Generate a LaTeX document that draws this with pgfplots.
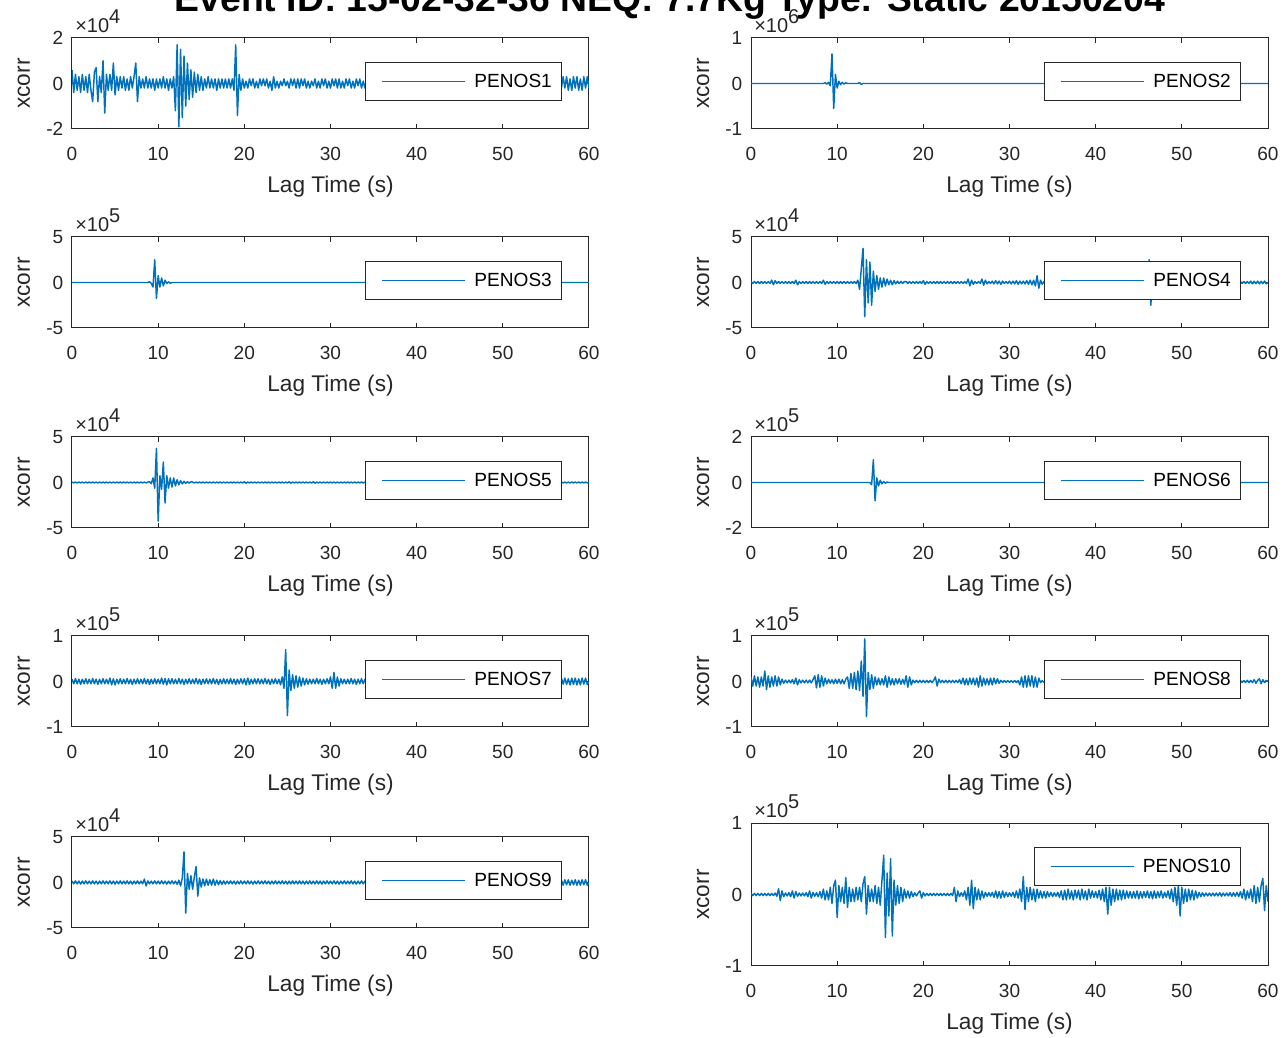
\documentclass[border=0pt]{standalone}
\usepackage{pgfplots}
\pgfplotsset{compat=1.18}
\usepackage{fontspec}
\setmainfont{Liberation Sans}
\definecolor{mblue}{RGB}{0,114,189}
\definecolor{axisgray}{RGB}{38,38,38}
\newcommand\tf{\fontsize{14.3}{17}\selectfont}
\newcommand\lf{\fontsize{17}{20}\selectfont}
\pgfplotsset{
  panel/.style={
    scale only axis, width=387.75pt, height=68.25pt,
    xmin=0, xmax=60, ymin=-20, ymax=20,
    xtick={0,10,20,30,40,50,60}, xticklabels={0,10,20,30,40,50,60},
    ytick={-20,0,20},
    tick align=inside, tick pos=both,
    major tick length=3.75pt,
    axis line style={draw=axisgray, line width=0.75pt},
    every tick/.style={draw=axisgray, line width=0.75pt},
    ticklabel style={font=\tf, text=axisgray},
    xticklabel style={anchor=base, yshift=-24pt},
    yticklabel style={xshift=-3pt},
    xlabel={Lag Time (s)}, ylabel={xcorr},
    label style={font=\lf, text=axisgray},
    xlabel style={at={([yshift=-48pt]axis description cs:0.5,0)}, anchor=base},
    ylabel style={at={([xshift=-31.5pt]axis description cs:0,0.5)}, anchor=base},
    legend style={at={(axis description cs:1,1)}, anchor=north east, xshift=-20pt, yshift=-18pt,
      draw=axisgray, line width=0.75pt, fill=white, font=\tf, text=black,
      inner xsep=7.5pt, inner ysep=8.4pt, nodes={inner sep=0pt},
      /tikz/every odd column/.append style={column sep=6.2pt}},
    legend image code/.code={\path (0pt,0pt); \draw[##1,line width=1.1pt] (4.5pt,0pt) -- (66.75pt,0pt);},
  },
  expo/.style={extra description/.code={\node[anchor=base west, inner sep=0pt, font=\fontsize{15}{18}\selectfont, text=axisgray] at ([xshift=2.25pt,yshift=3.75pt]0,1) {×10\raisebox{7pt}{#1}};}},
  trace/.style={color=mblue, line width=1.1pt, line join=round, mark=none},
}
\begin{document}
\begin{tikzpicture}
\node[anchor=base, font=\fontsize{28}{32}\selectfont\bfseries] at (502.5pt,769.5pt) {Event ID: 15-02-32-36 NEQ: 7.7Kg Type: Static 20150204};

% PENOS1
\begin{axis}[panel, at={(54pt,681.75pt)}, anchor=south west, yticklabels={-2,0,2}, expo=4]
\addplot[trace] table[row sep=\\, header=false, x expr=\coordindex*0.2, y index=0] {
6\\-4\\4\\-3\\3\\-4\\4\\-3\\3\\-4\\
4\\-3\\-8\\5\\7\\-8\\3\\-4\\10\\-13\\
4\\-3\\4\\-3\\9\\-5\\3\\-3\\3\\-2\\
3\\-3\\2\\-3\\3\\-2\\3\\9\\-8\\3\\
-2\\2\\-2\\3\\-2\\2\\-2\\2\\-3\\2\\
-2\\2\\-2\\3\\-2\\2\\-3\\2\\-2\\3\\
-12\\17\\-19\\15\\-15\\12\\-10\\9\\-7\\6\\
-6\\5\\-4\\4\\-3\\3\\-3\\2\\-2\\3\\
-2\\2\\-2\\2\\-3\\2\\-2\\2\\-2\\2\\
-2\\2\\-2\\2\\-3\\17\\-14\\4\\-3\\2\\
-2\\1\\-2\\2\\-1\\2\\-2\\1\\-2\\2\\
-1\\2\\-1\\2\\-2\\1\\-3\\3\\-2\\1\\
-2\\1\\-1\\2\\-1\\1\\-2\\2\\-1\\2\\
-2\\2\\-2\\2\\-1\\2\\-2\\1\\-2\\1\\
-1\\2\\-2\\1\\-2\\2\\-1\\2\\-2\\1\\
-2\\2\\-1\\2\\-2\\2\\-2\\1\\-2\\2\\
-1\\2\\-2\\1\\-2\\2\\-1\\2\\-2\\1\\
-2\\2\\-1\\2\\-2\\1\\-2\\2\\-1\\2\\
-2\\2\\-1\\2\\-2\\1\\-2\\2\\-1\\2\\
-2\\2\\-1\\2\\-2\\1\\-2\\2\\-1\\2\\
-2\\2\\-1\\2\\-2\\1\\-2\\2\\-1\\2\\
-2\\2\\-1\\2\\-2\\1\\-2\\2\\-1\\2\\
-2\\2\\-1\\2\\-2\\1\\-2\\2\\-1\\2\\
-2\\2\\-1\\2\\-2\\1\\-2\\2\\-1\\2\\
-2\\2\\-1\\2\\-2\\1\\-2\\2\\-1\\2\\
-2\\2\\-1\\2\\-2\\1\\-2\\2\\-1\\2\\
-2\\2\\-1\\2\\-2\\1\\-2\\2\\-1\\2\\
-2\\2\\-1\\2\\-2\\1\\-2\\2\\-1\\2\\
-2\\2\\-3\\2\\-2\\3\\-2\\3\\-3\\2\\
-3\\3\\-2\\3\\-3\\2\\-3\\3\\-2\\3\\
-2\\
};
\addlegendentry{PENOS1}
\end{axis}

% PENOS2
\begin{axis}[panel, at={(563.25pt,681.75pt)}, anchor=south west, yticklabels={-1,0,1}, expo=6]
\addplot[trace] table[row sep=\\, header=false, x expr=\coordindex*0.2, y index=0] {
0\\0\\0\\0\\0\\0\\0\\0\\0\\0\\
0\\0\\0\\0\\0\\0\\0\\0\\0\\0\\
0\\0\\0\\0\\0\\0\\0\\0\\0\\0\\
0\\0\\0\\0\\0\\0\\0\\0\\0\\0\\
0\\0\\0\\0.3\\-0.3\\0.5\\-1\\13\\-11\\4\\
-2\\1\\-0.5\\0.5\\-0.3\\0.3\\0\\0\\0\\0\\
0\\0\\0\\0.4\\-0.4\\0\\0\\0\\0\\0\\
0\\0\\0\\0\\0\\0\\0\\0\\0\\0\\
0\\0\\0\\0\\0\\0\\0\\0\\0\\0\\
0\\0\\0\\0\\0\\0\\0\\0\\0\\0\\
0\\0\\0\\0\\0\\0\\0\\0\\0\\0\\
0\\0\\0\\0\\0\\0\\0\\0\\0\\0\\
0\\0\\0\\0\\0\\0\\0\\0\\0\\0\\
0\\0\\0\\0\\0\\0\\0\\0\\0\\0\\
0\\0\\0\\0\\0\\0\\0\\0\\0\\0\\
0\\0\\0\\0\\0\\0\\0\\0\\0\\0\\
0\\0\\0\\0\\0\\0\\0\\0\\0\\0\\
0\\0\\0\\0\\0\\0\\0\\0\\0\\0\\
0\\0\\0\\0\\0\\0\\0\\0\\0\\0\\
0\\0\\0\\0\\0\\0\\0\\0\\0\\0\\
0\\0\\0\\0\\0\\0\\0\\0\\0\\0\\
0\\0\\0\\0\\0\\0\\0\\0\\0\\0\\
0\\0\\0\\0\\0\\0\\0\\0\\0\\0\\
0\\0\\0\\0\\0\\0\\0\\0\\0\\0\\
0\\0\\0\\0\\0\\0\\0\\0\\0\\0\\
0\\0\\0\\0\\0\\0\\0\\0\\0\\0\\
0\\0\\0\\0\\0\\0\\0\\0\\0\\0\\
0\\0\\0\\0\\0\\0\\0\\0\\0\\0\\
0\\0\\0\\0\\0\\0\\0\\0\\0\\0\\
0\\0\\0\\0\\0\\0\\0\\0\\0\\0\\
0\\
};
\addlegendentry{PENOS2}
\end{axis}

% PENOS3
\begin{axis}[panel, at={(54pt,532.5pt)}, anchor=south west, yticklabels={-5,0,5}, expo=5]
\addplot[trace] table[row sep=\\, header=false, x expr=\coordindex*0.2, y index=0] {
0\\0\\0\\0\\0\\0\\0\\0\\0\\0\\
0\\0\\0\\0\\0\\0\\0\\0\\0\\0\\
0\\0\\0\\0\\0\\0\\0\\0\\0\\0\\
0\\0\\0\\0\\0\\0\\0\\0\\0\\0\\
0\\0\\0\\0\\0\\0.3\\-0.4\\-2\\10\\-7\\
3\\-2\\2\\-1.5\\1\\-0.5\\0.3\\-0.3\\0\\0\\
0\\0\\0\\0\\0\\0\\0\\0\\0\\0\\
0\\0\\0\\0\\0\\0\\0\\0\\0\\0\\
0\\0\\0\\0\\0\\0\\0\\0\\0\\0\\
0\\0\\0\\0\\0\\0\\0\\0\\0\\0\\
0\\0\\0\\0\\0\\0\\0\\0\\0\\0\\
0\\0\\0\\0\\0\\0\\0\\0\\0\\0\\
0\\0\\0\\0\\0\\0\\0\\0\\0\\0\\
0\\0\\0\\0\\0\\0\\0\\0\\0\\0\\
0\\0\\0\\0\\0\\0\\0\\0\\0\\0\\
0\\0\\0\\0\\0\\0\\0\\0\\0\\0\\
0\\0\\0\\0\\0\\0\\0\\0\\0\\0\\
0\\0\\0\\0\\0\\0\\0\\0\\0\\0\\
0\\0\\0\\0\\0\\0\\0\\0\\0\\0\\
0\\0\\0\\0\\0\\0\\0\\0\\0\\0\\
0\\0\\0\\0\\0\\0\\0\\0\\0\\0\\
0\\0\\0\\0\\0\\0\\0\\0\\0\\0\\
0\\0\\0\\0\\0\\0\\0\\0\\0\\0\\
0\\0\\0\\0\\0\\0\\0\\0\\0\\0\\
0\\0\\0\\0\\0\\0\\0\\0\\0\\0\\
0\\0\\0\\0\\0\\0\\0\\0\\0\\0\\
0\\0\\0\\0\\0\\0\\0\\0\\0\\0\\
0\\0\\0\\0\\0\\0\\0\\0\\0\\0\\
0\\0\\0\\0\\0\\0\\0\\0\\0\\0\\
0\\0\\0\\0\\0\\0\\0\\0\\0\\0\\
0\\
};
\addlegendentry{PENOS3}
\end{axis}

% PENOS4
\begin{axis}[panel, at={(563.25pt,532.5pt)}, anchor=south west, yticklabels={-5,0,5}, expo=4]
\addplot[trace] table[row sep=\\, header=false, x expr=\coordindex*0.2, y index=0] {
0.4\\-0.4\\0.4\\-0.4\\0.4\\-0.4\\0.4\\-0.4\\0.4\\-0.4\\
0.4\\-0.4\\1\\-1\\0.8\\-0.4\\0.4\\-0.4\\0.4\\-0.4\\
0.4\\-0.4\\0.4\\-0.4\\0.4\\-0.4\\1\\-1\\0.4\\-0.4\\
0.4\\-0.4\\0.4\\-0.4\\0.4\\-0.4\\0.4\\-0.4\\0.4\\-0.4\\
0.4\\-0.4\\1\\-0.8\\0.4\\-0.4\\0.4\\-0.4\\0.4\\-0.4\\
0.4\\-0.4\\0.4\\-0.4\\0.4\\-0.4\\0.4\\-0.4\\0.4\\-0.4\\
0.4\\-0.4\\1\\-3\\6\\15\\-15\\10\\-9\\9\\
-10\\5\\-4\\3\\-3\\2\\-2\\2\\-1.5\\1.5\\
-1\\1\\-1\\0.8\\-0.6\\0.6\\-0.5\\0.5\\-0.4\\0.4\\
0.4\\-0.4\\0.4\\-0.4\\0.4\\-0.4\\0.4\\-0.4\\0.4\\-0.4\\
0.8\\-0.8\\0.4\\-0.4\\0.4\\-0.4\\0.4\\-0.4\\0.4\\-0.4\\
0.4\\-0.4\\0.4\\-0.4\\0.4\\-0.4\\0.4\\-0.4\\0.4\\-0.4\\
0.4\\-0.4\\0.4\\-0.4\\0.4\\-0.4\\1.5\\-1.5\\1\\-0.8\\
0.4\\-0.4\\0.4\\-0.4\\1.5\\-1.2\\1\\-0.6\\0.4\\-0.4\\
0.6\\-0.6\\0.8\\-0.6\\0.6\\-0.8\\0.6\\-0.4\\0.4\\-0.4\\
0.6\\-0.6\\0.6\\-0.6\\0.8\\-0.8\\0.6\\-0.6\\0.6\\-0.6\\
0.8\\-0.8\\1\\-1\\1\\-1.5\\3\\-2.5\\1\\-0.8\\
0.4\\-0.4\\0.4\\-0.4\\0.4\\-0.4\\0.4\\-0.4\\0.4\\-0.4\\
0.4\\-0.4\\0.4\\-0.4\\0.4\\-0.4\\0.4\\-0.4\\0.4\\-0.4\\
0.4\\-0.4\\0.4\\-0.4\\0.4\\-0.4\\0.4\\-0.4\\0.4\\-0.4\\
0.4\\-0.4\\0.4\\-0.4\\0.4\\-0.4\\0.4\\-0.4\\0.4\\-0.4\\
0.4\\-0.4\\0.4\\-0.4\\0.4\\-0.4\\0.4\\-0.4\\0.4\\-0.4\\
0.4\\-0.4\\0.4\\-0.4\\0.4\\-0.4\\0.4\\-0.4\\0.4\\-0.4\\
0.4\\10\\-10\\2\\-1\\0.5\\-0.4\\0.4\\-0.4\\0.4\\
0.4\\-0.4\\0.4\\-0.4\\0.4\\-0.4\\0.4\\-0.4\\0.4\\-0.4\\
0.4\\-0.4\\0.4\\-0.4\\0.4\\-0.4\\0.4\\-0.4\\0.4\\-0.4\\
0.4\\-0.4\\0.4\\-0.4\\0.4\\-0.4\\0.4\\-0.4\\0.4\\-0.4\\
0.4\\-0.4\\0.4\\-0.4\\0.4\\-0.4\\0.4\\-0.4\\0.4\\-0.4\\
0.4\\-0.4\\0.4\\-0.4\\0.4\\-0.4\\0.4\\-0.4\\0.4\\-0.4\\
0.6\\-0.6\\0.5\\-0.5\\0.6\\-0.6\\0.5\\-0.5\\0.6\\-0.6\\
0\\
};
\addlegendentry{PENOS4}
\end{axis}

% PENOS5
\begin{axis}[panel, at={(54pt,382.5pt)}, anchor=south west, yticklabels={-5,0,5}, expo=4]
\addplot[trace] table[row sep=\\, header=false, x expr=\coordindex*0.2, y index=0] {
0.2\\-0.2\\0.2\\-0.2\\0.2\\-0.2\\0.2\\-0.2\\0.2\\-0.2\\
0.2\\-0.2\\0.2\\-0.2\\0.2\\-0.2\\0.2\\-0.2\\0.2\\-0.2\\
0.2\\-0.2\\0.2\\-0.2\\0.2\\-0.2\\0.2\\-0.2\\0.2\\-0.2\\
0.2\\-0.2\\0.2\\-0.2\\0.2\\-0.2\\0.2\\-0.2\\0.2\\-0.2\\
0.2\\-0.2\\0.2\\-0.2\\0.2\\0.3\\-0.5\\2\\-2.5\\15\\
-17\\3\\-3\\9\\-9\\3\\-2.5\\2\\-2\\2\\
-1.5\\1.2\\-1\\0.8\\-0.6\\0.5\\-0.4\\0.4\\-0.3\\0.3\\
0.2\\-0.2\\0.2\\-0.2\\0.2\\-0.2\\0.2\\-0.2\\0.2\\-0.2\\
0.2\\-0.2\\0.2\\-0.2\\0.2\\-0.2\\0.2\\-0.2\\0.2\\-0.2\\
0.2\\-0.2\\0.2\\-0.2\\0.2\\-0.2\\0.2\\-0.2\\0.2\\-0.2\\
0.3\\-0.3\\0.2\\-0.2\\0.2\\-0.2\\0.2\\-0.2\\0.2\\-0.2\\
0.2\\-0.2\\0.2\\-0.2\\0.2\\-0.2\\0.2\\-0.2\\0.2\\-0.2\\
0.2\\-0.2\\0.2\\-0.2\\0.2\\-0.2\\0.3\\-0.3\\0.2\\-0.2\\
0.2\\-0.2\\0.2\\-0.2\\0.2\\-0.2\\0.2\\-0.2\\0.2\\-0.2\\
0.3\\-0.3\\0.2\\-0.2\\0.2\\-0.2\\0.2\\-0.2\\0.2\\-0.2\\
0.2\\-0.2\\0.2\\-0.2\\0.2\\-0.2\\0.2\\-0.2\\0.2\\-0.2\\
0.2\\-0.2\\0.2\\-0.2\\0.2\\-0.2\\0.2\\-0.2\\0.2\\-0.2\\
0.2\\-0.2\\0.2\\-0.2\\0.2\\-0.2\\0.2\\-0.2\\0.2\\-0.2\\
0.2\\-0.2\\0.2\\-0.2\\0.2\\-0.2\\0.2\\-0.2\\0.2\\-0.2\\
0.2\\-0.2\\0.2\\-0.2\\0.2\\-0.2\\0.2\\-0.2\\0.2\\-0.2\\
0.2\\-0.2\\0.2\\-0.2\\0.2\\-0.2\\0.2\\-0.2\\0.2\\-0.2\\
0.2\\-0.2\\0.2\\-0.2\\0.2\\-0.2\\0.2\\-0.2\\0.2\\-0.2\\
0.2\\-0.2\\0.2\\-0.2\\0.2\\-0.2\\0.2\\-0.2\\0.2\\-0.2\\
0.2\\-0.2\\0.2\\-0.2\\0.2\\-0.2\\0.2\\-0.2\\0.2\\-0.2\\
0.2\\-0.2\\0.2\\-0.2\\0.2\\-0.2\\0.2\\-0.2\\0.2\\-0.2\\
0.2\\-0.2\\0.2\\-0.2\\0.2\\-0.2\\0.2\\-0.2\\0.2\\-0.2\\
0.2\\-0.2\\0.2\\-0.2\\0.2\\-0.2\\0.2\\-0.2\\0.2\\-0.2\\
0.2\\-0.2\\0.2\\-0.2\\0.2\\-0.2\\0.2\\-0.2\\0.2\\-0.2\\
0.2\\-0.2\\0.2\\-0.2\\0.2\\-0.2\\0.2\\-0.2\\0.2\\-0.2\\
0.2\\-0.2\\0.2\\-0.2\\0.2\\-0.2\\0.2\\-0.2\\0.2\\-0.2\\
0\\
};
\addlegendentry{PENOS5}
\end{axis}

% PENOS6
\begin{axis}[panel, at={(563.25pt,382.5pt)}, anchor=south west, yticklabels={-2,0,2}, expo=5]
\addplot[trace] table[row sep=\\, header=false, x expr=\coordindex*0.2, y index=0] {
0\\0\\0\\0\\0\\0\\0\\0\\0\\0\\
0\\0\\0\\0\\0\\0\\0\\0\\0\\0\\
0\\0\\0\\0\\0\\0\\0\\0\\0\\0\\
0\\0\\0\\0\\0\\0\\0\\0\\0\\0\\
0\\0\\0\\0\\0\\0\\0\\0\\0\\0\\
0\\0\\0\\0\\0\\0\\0\\0\\0\\0\\
0\\0\\0\\0\\0\\0\\0\\0\\0\\0\\
-1\\10\\-8\\2\\-1.5\\1\\-0.6\\0.4\\-0.3\\0.2\\
0\\0\\0\\0\\0\\0\\0\\0\\0\\0\\
0\\0\\0\\0\\0\\0\\0\\0\\0\\0\\
0\\0\\0\\0\\0\\0\\0\\0\\0\\0\\
0\\0\\0\\0\\0\\0\\0\\0\\0\\0\\
0\\0\\0\\0\\0\\0\\0\\0\\0\\0\\
0\\0\\0\\0\\0\\0\\0\\0\\0\\0\\
0\\0\\0\\0\\0\\0\\0\\0\\0\\0\\
0\\0\\0\\0\\0\\0\\0\\0\\0\\0\\
0\\0\\0\\0\\0\\0\\0\\0\\0\\0\\
0\\0\\0\\0\\0\\0\\0\\0\\0\\0\\
0\\0\\0\\0\\0\\0\\0\\0\\0\\0\\
0\\0\\0\\0\\0\\0\\0\\0\\0\\0\\
0\\0\\0\\0\\0\\0\\0\\0\\0\\0\\
0\\0\\0\\0\\0\\0\\0\\0\\0\\0\\
0\\0\\0\\0\\0\\0\\0\\0\\0\\0\\
0\\0\\0\\0\\0\\0\\0\\0\\0\\0\\
0\\0\\0\\0\\0\\0\\0\\0\\0\\0\\
0\\0\\0\\0\\0\\0\\0\\0\\0\\0\\
0\\0\\0\\0\\0\\0\\0\\0\\0\\0\\
0\\0\\0\\0\\0\\0\\0\\0\\0\\0\\
0\\0\\0\\0\\0\\0\\0\\0\\0\\0\\
0\\0\\0\\0\\0\\0\\0\\0\\0\\0\\
0\\
};
\addlegendentry{PENOS6}
\end{axis}

% PENOS7
\begin{axis}[panel, at={(54pt,233.25pt)}, anchor=south west, yticklabels={-1,0,1}, expo=5]
\addplot[trace] table[row sep=\\, header=false, x expr=\coordindex*0.2, y index=0] {
1\\-1\\1.3\\-1\\1\\-1.3\\1\\-1\\1.2\\-1\\
1\\-1\\1.3\\-1\\1\\-1.3\\1\\-1\\1.2\\-1\\
1\\-1\\1.5\\-1.5\\1.2\\-1.5\\1\\-1\\1.2\\-1\\
1\\-1\\1.3\\-1\\1\\-1.3\\1\\-1\\1.2\\-1\\
1\\-1\\1.3\\-1\\1\\-1.3\\1\\-1\\1.2\\-1\\
1\\-1\\1.5\\-1.2\\1.3\\-1.5\\1.2\\-1\\1.2\\-1\\
1\\-1\\1.3\\-1\\1\\-1.3\\1\\-1\\1.2\\-1\\
1\\-1\\1.3\\-1\\1\\-1.3\\1\\-1\\1.2\\-1\\
1\\-1\\1.3\\-1\\1\\-1.3\\1\\-1\\1.2\\-1\\
1\\-1\\1.3\\-1\\1\\-1.3\\1\\-1\\1.2\\-1\\
1.2\\-1.5\\1.5\\-1.3\\1\\-1\\1.2\\-1\\1.2\\-1\\
1\\-1\\1.3\\-1\\1\\-1.3\\1\\-1\\1.2\\-1\\
1\\-1.5\\2\\-3\\14\\-15\\5\\-4\\3\\-3\\
2.5\\-2.5\\2\\-2\\1.5\\-1.5\\1.2\\-1.2\\1\\-1\\
1\\-1\\1.3\\-1\\1\\-1.3\\1\\-1\\1.2\\-1\\
2\\-3\\4\\-3\\2\\-2\\1.2\\-1\\1\\-1\\
1\\-1\\1.3\\-1\\1\\-1.3\\1\\-1\\1.2\\-1\\
1\\-1\\1.3\\-1\\1\\-1.3\\1\\-1\\1.2\\-1\\
1\\-1\\1.3\\-1\\1\\-1.3\\1\\-1\\1.2\\-1\\
1\\-1\\1.3\\-1\\1\\-1.3\\1\\-1\\1.2\\-1\\
1\\-1\\1.3\\-1\\1\\-1.3\\1\\-1\\1.2\\-1\\
1\\-1\\1.3\\-1\\1\\-1.3\\1\\-1\\1.2\\-1\\
1\\-1\\1.3\\-1\\1\\-1.3\\1\\-1\\1.2\\-1\\
1\\-1\\1.3\\-1\\1\\-1.3\\1\\-1\\1.2\\-1\\
1\\-1\\1.3\\-1\\1\\-1.3\\1\\-1\\1.2\\-1\\
1\\-1\\1.3\\-1\\1\\-1.3\\1\\-1\\1.2\\-1\\
1\\-1\\1.3\\-1\\1\\-1.3\\1\\-1\\1.2\\-1\\
1\\-1\\1.3\\-1\\1\\-1.3\\1\\-1\\1.2\\-1\\
1.2\\-1.5\\1.3\\-1.5\\1.5\\-1.2\\1.5\\-1.3\\1.2\\-1.5\\
1.5\\-1.3\\1.5\\-1.5\\1.2\\-1.5\\1.5\\-1.2\\1.5\\-1.3\\
0\\
};
\addlegendentry{PENOS7}
\end{axis}

% PENOS8
\begin{axis}[panel, at={(563.25pt,233.25pt)}, anchor=south west, yticklabels={-1,0,1}, expo=5]
\addplot[trace] table[row sep=\\, header=false, x expr=\coordindex*0.2, y index=0] {
2\\-2\\2.5\\-2\\2\\-2.5\\2\\-2\\4.6\\-3.6\\
2.5\\-2.5\\2\\-2\\2.5\\-2\\2\\-1.5\\1\\-0.8\\
0.6\\-0.6\\0.6\\-0.6\\0.8\\-1\\1.5\\-1.5\\0.8\\-0.6\\
0.6\\-0.6\\0.6\\-0.6\\0.6\\-0.6\\0.8\\2.5\\-2.8\\3\\
-2.5\\2.5\\-2\\1.5\\-1\\1\\-0.8\\0.8\\-1\\1\\
-0.8\\1\\-1\\0.8\\-1\\1\\2\\-3\\3.5\\-3\\
4\\-3.6\\4.6\\-4\\9\\-6.5\\18.7\\-15.4\\4\\-3.5\\
3\\-3\\2\\-1.5\\1.5\\-1.5\\1.2\\-1.5\\2.5\\-2.5\\
2\\-1.5\\1.2\\-1.5\\1.2\\-1\\1.2\\-1.2\\1\\-1.2\\
2.5\\-2.5\\2\\-1.5\\0.6\\-0.5\\0.5\\-0.5\\0.5\\-0.5\\
0.5\\-0.5\\0.5\\-0.5\\0.5\\-0.5\\0.5\\2\\-2\\1\\
-0.5\\0.5\\-0.5\\0.5\\-0.5\\0.5\\-0.5\\0.5\\-0.5\\0.5\\
-0.5\\0.8\\-1\\1.5\\-1.5\\1.2\\-1.5\\1.5\\-1.2\\1.5\\
-1.5\\1.5\\-2.5\\2.5\\-2\\1.5\\-1.5\\1.2\\-1.5\\1.5\\
-1.5\\1.5\\-1\\1.2\\-0.8\\0.5\\-0.4\\0.4\\-0.4\\0.4\\
-0.4\\0.4\\-0.4\\0.4\\-0.4\\0.4\\-1.5\\2\\-2.5\\2.5\\
-2.5\\2.5\\-2\\2.5\\-2.5\\2\\-2.5\\1.5\\-0.5\\0.4\\
-0.4\\0.4\\-0.4\\0.4\\-0.4\\0.4\\-0.4\\0.4\\-0.4\\0.4\\
-0.4\\0.4\\-0.4\\0.4\\-0.4\\0.4\\-0.4\\0.4\\-0.4\\0.4\\
-0.4\\0.4\\-0.4\\0.4\\-0.4\\0.4\\-0.4\\0.4\\-0.4\\0.4\\
-0.4\\0.4\\-0.4\\0.4\\-0.4\\0.4\\-0.4\\0.4\\-0.4\\0.4\\
-0.4\\0.4\\-0.4\\0.4\\-0.4\\0.4\\-0.4\\0.4\\-0.4\\0.4\\
-0.4\\0.4\\-0.4\\0.4\\-0.4\\0.4\\-0.4\\0.4\\-0.4\\0.4\\
-0.4\\0.4\\-0.4\\0.4\\-0.4\\0.4\\-0.4\\0.4\\-0.4\\0.4\\
-0.4\\0.4\\-0.4\\0.4\\-0.4\\0.4\\-0.4\\0.4\\-0.4\\0.4\\
-0.4\\0.4\\-0.4\\0.4\\-0.4\\0.4\\-0.4\\0.4\\-0.4\\0.4\\
-0.4\\0.4\\-0.4\\0.4\\-0.4\\0.4\\-0.4\\0.4\\-0.4\\0.4\\
-0.4\\0.4\\-0.4\\0.4\\-0.4\\0.4\\-0.4\\0.4\\-0.4\\0.4\\
0.4\\-0.4\\0.4\\-0.4\\0.4\\-0.4\\0.4\\-0.4\\0.5\\-0.5\\
0.5\\-0.5\\0.8\\-0.8\\0.5\\1.2\\-1\\0.8\\-0.5\\0.5\\
0\\
};
\addlegendentry{PENOS8}
\end{axis}

% PENOS9
\begin{axis}[panel, at={(54pt,82.5pt)}, anchor=south west, yticklabels={-5,0,5}, expo=4]
\addplot[trace] table[row sep=\\, header=false, x expr=\coordindex*0.2, y index=0] {
0.6\\-0.6\\0.7\\-0.6\\0.6\\-0.7\\0.6\\-0.6\\0.7\\-0.6\\
0.6\\-0.6\\0.7\\-0.6\\0.6\\-0.7\\0.6\\-0.6\\0.7\\-0.6\\
0.6\\-0.6\\0.7\\-0.6\\0.6\\-0.7\\0.6\\-0.6\\0.7\\-0.6\\
0.6\\-0.6\\0.7\\-0.6\\0.6\\-0.7\\0.6\\-0.6\\0.7\\-0.6\\
0.6\\-0.6\\1.5\\-1.5\\0.7\\-0.6\\0.6\\-0.6\\0.7\\-0.6\\
0.6\\-0.6\\0.7\\-0.6\\0.6\\-0.7\\0.6\\-0.6\\0.7\\-0.6\\
0.6\\-0.8\\1\\-1.5\\2\\13.5\\-13.5\\4\\-3\\3\\
-3\\2.5\\7\\-6\\2\\-2\\1.5\\-1.5\\1.5\\-1.2\\
1.2\\-1.2\\1.5\\-1.2\\1\\-1\\0.8\\-0.8\\0.7\\-0.7\\
0.6\\-0.6\\0.7\\-0.6\\0.6\\-0.7\\0.6\\-0.6\\0.7\\-0.6\\
0.6\\-0.6\\0.7\\-0.6\\0.6\\-0.7\\0.6\\-0.6\\0.7\\-0.6\\
0.6\\-0.6\\0.7\\-0.6\\0.6\\-0.7\\0.6\\-0.6\\0.7\\-0.6\\
0.6\\-0.6\\0.7\\-0.6\\0.6\\-0.7\\0.6\\-0.6\\0.7\\-0.6\\
0.6\\-0.6\\0.7\\-0.6\\0.6\\-0.7\\0.6\\-0.6\\0.7\\-0.6\\
0.6\\-0.6\\0.7\\-0.6\\0.6\\-0.7\\0.6\\-0.6\\0.7\\-0.6\\
0.6\\-0.6\\0.7\\-0.6\\0.6\\-0.7\\0.6\\-0.6\\0.7\\-0.6\\
0.6\\-0.6\\0.7\\-0.6\\0.6\\-0.7\\0.6\\-0.6\\0.7\\-0.6\\
0.6\\-0.6\\0.7\\-0.6\\0.6\\-0.7\\0.6\\-0.6\\0.7\\-0.6\\
0.6\\-0.6\\0.7\\-0.6\\0.6\\-0.7\\0.6\\-0.6\\0.7\\-0.6\\
0.6\\-0.6\\0.7\\-0.6\\0.6\\-0.7\\0.6\\-0.6\\0.7\\-0.6\\
0.6\\-0.6\\0.7\\-0.6\\0.6\\-0.7\\0.6\\-0.6\\0.7\\-0.6\\
0.6\\-0.6\\0.7\\-0.6\\0.6\\-0.7\\0.6\\-0.6\\0.7\\-0.6\\
0.6\\-0.6\\0.7\\-0.6\\0.6\\-0.7\\0.6\\-0.6\\0.7\\-0.6\\
0.6\\-0.6\\0.7\\-0.6\\0.6\\-0.7\\0.6\\-0.6\\0.7\\-0.6\\
0.6\\-0.6\\0.7\\-0.6\\0.6\\-0.7\\0.6\\-0.6\\0.7\\-0.6\\
0.6\\-0.6\\0.7\\-0.6\\0.6\\-0.7\\0.6\\-0.6\\0.7\\-0.6\\
0.6\\-0.6\\0.7\\-0.6\\0.6\\-0.7\\0.6\\-0.6\\0.7\\-0.6\\
0.6\\-0.6\\0.7\\-0.6\\0.6\\-0.7\\0.6\\-0.6\\0.7\\-0.6\\
1\\-1\\1.2\\-1.2\\1\\-1.2\\1.2\\-1\\1.2\\-1.2\\
1\\-1\\1.2\\-1.2\\1\\-1.2\\1.2\\-1\\1.2\\-1.2\\
0\\
};
\addlegendentry{PENOS9}
\end{axis}

% PENOS10
\begin{axis}[panel, at={(563.25pt,54pt)}, anchor=south west, height=107.25pt, yticklabels={-1,0,1}, expo=5]
\addplot[trace] table[row sep=\\, header=false, x expr=\coordindex*0.2, y index=0] {
0.3\\-0.3\\0.3\\-0.3\\0.3\\-0.3\\0.3\\-0.3\\0.3\\-0.3\\
0.3\\-0.3\\0.3\\-0.3\\0.4\\-0.5\\1.6\\-1.7\\1\\-0.6\\
0.4\\-0.4\\0.5\\-0.6\\1\\-1\\0.8\\-0.5\\0.4\\-0.4\\
0.4\\-0.4\\0.5\\-0.6\\1\\-1\\0.6\\-0.5\\0.5\\-0.6\\
0.8\\-1\\1.5\\-1.5\\1\\-1.5\\2\\-2.5\\2.5\\4\\
-6.4\\2.5\\-2\\2\\-2.5\\4.7\\-3.6\\2\\-2\\1.5\\
-2\\2\\-1.5\\2\\-2\\3\\5\\-5.5\\2.5\\-2\\
1.5\\-2\\2.5\\-2.5\\2\\-3\\4\\11\\-12\\6\\
-6\\10\\-11.6\\4\\-3\\2.5\\-2.5\\2\\-2\\1.5\\
-1\\1\\-1\\0.8\\-0.6\\0.5\\-0.4\\0.4\\1\\-1\\
0.5\\-0.4\\0.3\\-0.3\\0.3\\-0.3\\0.3\\-0.3\\0.3\\-0.3\\
0.3\\-0.3\\0.3\\-0.3\\0.3\\-0.3\\0.3\\-0.3\\2\\-2\\
1\\-0.6\\0.5\\-0.5\\1\\-1.5\\2\\-3\\4\\-4\\
2\\-1.5\\1.5\\-1.5\\1\\-1\\0.6\\-0.5\\0.5\\-0.5\\
0.6\\-0.8\\1\\-1\\0.8\\-1\\1\\-0.8\\0.6\\-0.6\\
0.5\\-0.5\\0.6\\-0.8\\1\\-1\\1.5\\-2\\5\\-4.2\\
2\\-2\\2\\-1.5\\1.5\\-2\\1.5\\-1\\1\\-1\\
0.8\\-1\\0.8\\-0.6\\0.6\\-0.6\\0.5\\-0.5\\0.6\\-0.8\\
1\\-1.5\\1.2\\-1.5\\1.5\\-1.2\\1\\-1.5\\1.2\\-1\\
1.2\\-1.5\\1.5\\-1.2\\1\\-1.5\\1.5\\-1\\1\\-0.8\\
0.8\\-1\\1.2\\-1.5\\1.5\\-2\\2\\-5.5\\2\\-3\\
1.5\\-2\\1.5\\-1.5\\1.2\\-1.5\\1.2\\-1.2\\1\\-1\\
0.8\\-1\\0.8\\-1\\1\\-1.2\\0.8\\-1\\0.8\\-0.8\\
1\\-1\\0.8\\-1.2\\1\\-1\\0.8\\-0.8\\1\\-1\\
0.6\\-0.8\\1\\-1.2\\1.5\\-2\\2\\-3\\2.5\\-6\\
2\\-2.5\\1.5\\-2\\1.5\\-1.5\\1.2\\-1.5\\1\\-1\\
0.6\\-0.6\\0.5\\-0.5\\0.4\\-0.4\\0.4\\-0.4\\0.4\\-0.4\\
0.4\\-0.4\\0.5\\-0.5\\0.4\\-0.4\\0.4\\-0.4\\0.5\\-0.5\\
0.5\\-0.5\\0.6\\-0.6\\0.8\\-1\\1.5\\-1.5\\1\\-1\\
1.5\\-2\\2.5\\-2.5\\2\\-2\\2.5\\4.5\\-4.5\\2.5\\
-2\\
};
\addlegendentry{PENOS10}
\end{axis}

\pgfresetboundingbox
\useasboundingbox (0,0) rectangle (964.5pt,778.5pt);
\end{tikzpicture}
\end{document}
